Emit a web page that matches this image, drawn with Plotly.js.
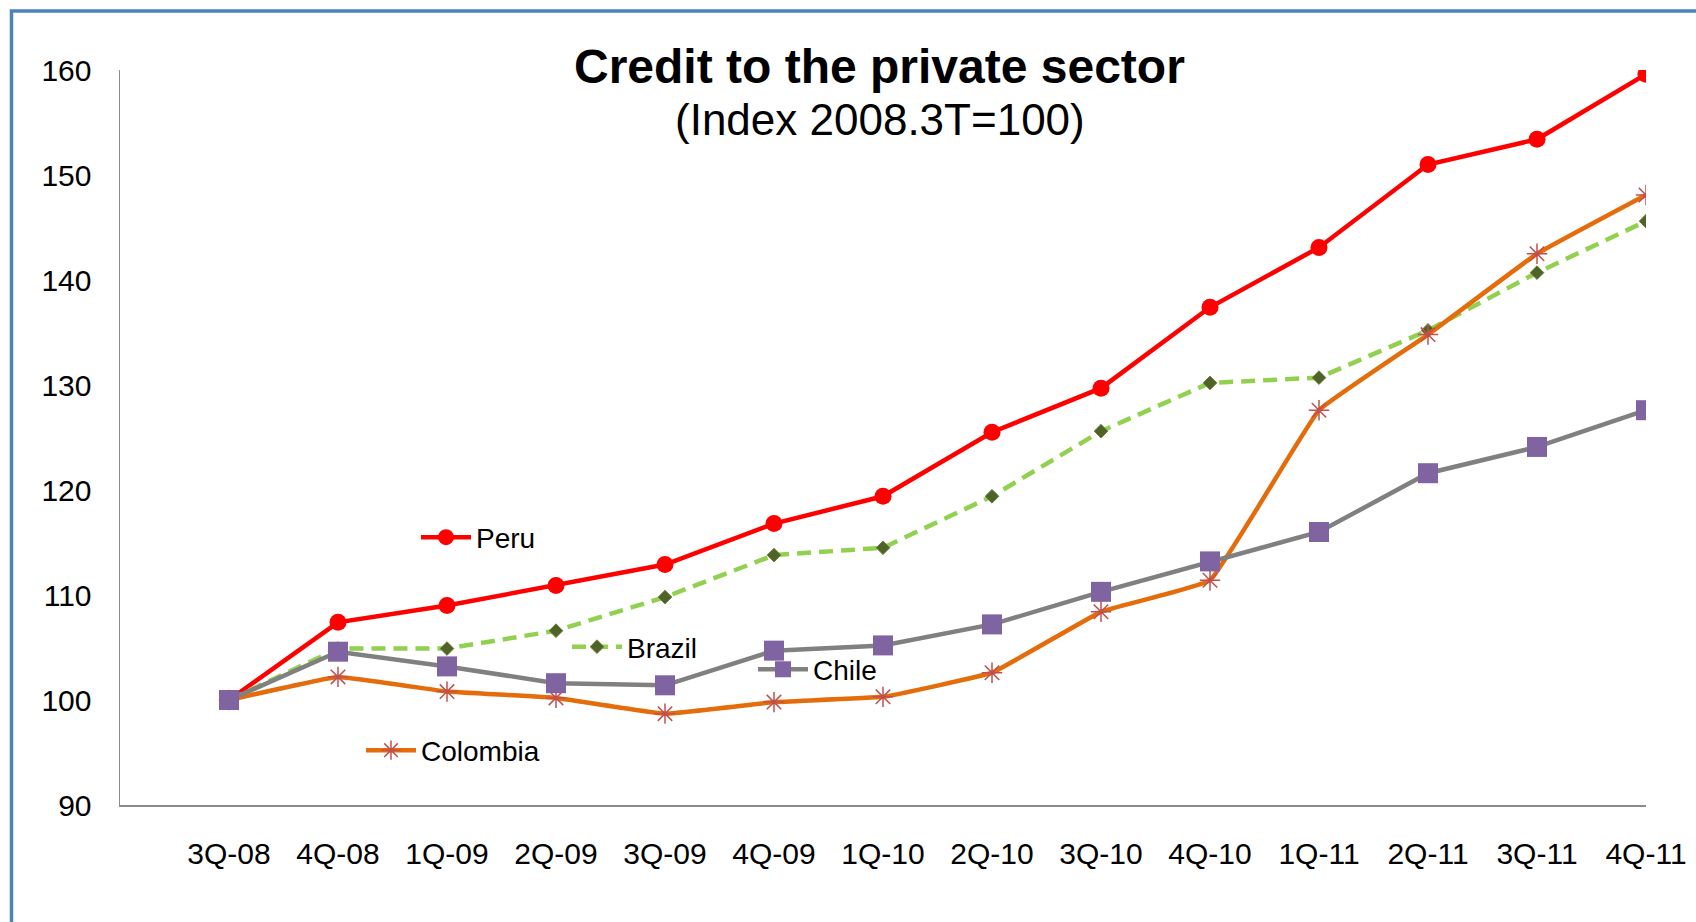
<!DOCTYPE html>
<html>
<head>
<meta charset="utf-8">
<script src="https://cdn.plot.ly/plotly-3.0.1.min.js"></script>
<style>
  html, body { margin: 0; padding: 0; background: #ffffff; }
  #chart { width: 1696px; height: 922px; }
</style>
</head>
<body>
<div id="chart"></div>
<script>
// ---- Data ----
const quarters = ["3Q-08","4Q-08","1Q-09","2Q-09","3Q-09","4Q-09","1Q-10","2Q-10","3Q-10","4Q-10","1Q-11","2Q-11","3Q-11","4Q-11"];
const peru     = [100, 107.4, 109.0, 110.9, 112.9, 116.8, 119.4, 125.5, 129.7, 137.4, 143.1, 151.0, 153.4, 159.6];
const brazil   = [100, 104.9, 104.9, 106.6, 109.8, 113.8, 114.5, 119.4, 125.6, 130.2, 130.7, 135.2, 140.7, 145.6];
const chile    = [100, 104.6, 103.2, 101.6, 101.4, 104.7, 105.2, 107.2, 110.3, 113.2, 116.0, 121.6, 124.1, 127.6];
const colombia = [100, 102.2, 100.8, 100.2,  98.7,  99.8, 100.3, 102.6, 108.4, 111.4, 127.6, 134.8, 142.5, 148.1];
const yTicks   = [90, 100, 110, 120, 130, 140, 150, 160];
const titleText = "Credit to the private sector";
const subtitleText = "(Index 2008.3T=100)";

const FONT = "Liberation Sans, Arial, sans-serif";
const xIdx = quarters.map((q, i) => i);

// plot area in pixels (for converting layout positions)
const PL = 120, PR = 1646, PT = 70, PB = 805;
const px2x = p => (p - PL) / (PR - PL);
const py2y = p => (PB - p) / (PB - PT);

const traces = [
  {
    name: "Peru", x: xIdx, y: peru, type: "scatter", mode: "lines+markers",
    line: { color: "#FF0000", width: 4.5 },
    marker: { symbol: "circle", size: 17, color: "#FF0000" },
    legend: "legend"
  },
  {
    name: "Brazil", x: xIdx, y: brazil, type: "scatter", mode: "lines+markers",
    line: { color: "#92D050", width: 4.5, dash: "14px,8px" },
    marker: { symbol: "diamond", size: 10.5, color: "#4F6228", line: { color: "#6B7F3A", width: 1 } },
    legend: "legend2"
  },
  {
    name: "Colombia", x: xIdx, y: colombia, type: "scatter", mode: "lines+markers",
    line: { color: "#E46C0A", width: 4.5, shape: "spline", smoothing: 0.25 },
    marker: { symbol: "asterisk-open", size: 17, color: "#C0504D", line: { color: "#C0504D", width: 1.5 } },
    legend: "legend4"
  },
  {
    name: "Chile", x: xIdx, y: chile, type: "scatter", mode: "lines+markers",
    line: { color: "#808080", width: 4.5 },
    marker: { symbol: "square", size: 20, color: "#8064A2" },
    legend: "legend3"
  }
];

function leg(xpx, ypx, bg) {
  return {
    x: px2x(xpx), y: py2y(ypx), xref: "paper", yref: "paper",
    xanchor: "left", yanchor: "middle",
    bgcolor: bg, borderwidth: 0,
    font: { family: FONT, size: 28, color: "#000000" },
    itemwidth: 50, tracegroupgap: 0
  };
}

const layout = {
  width: 1696, height: 922,
  paper_bgcolor: "#FFFFFF", plot_bgcolor: "rgba(0,0,0,0)",
  margin: { l: PL, r: 1696 - PR, t: PT, b: 922 - PB, autoexpand: false },
  showlegend: true,
  legend:  leg(416, 537.5, "rgba(255,255,255,1)"),
  legend2: leg(567, 647, "rgba(255,255,255,0)"),
  legend3: leg(753, 669.5, "rgba(255,255,255,0)"),
  legend4: leg(361, 750.5, "rgba(255,255,255,1)"),
  xaxis: {
    range: [-1, 13], tickmode: "array", tickvals: xIdx, ticktext: quarters,
    showgrid: false, zeroline: false, showline: true, linecolor: "#8C8C8C", linewidth: 1.5,
    ticks: "", ticklabelstandoff: 21, tickangle: 0, automargin: false,
    tickfont: { family: FONT, size: 30, color: "#000000" }, fixedrange: true
  },
  yaxis: {
    range: [90, 160], tickmode: "array", tickvals: yTicks, ticktext: yTicks.map(String),
    showgrid: false, zeroline: false, showline: true, linecolor: "#8C8C8C", linewidth: 1.5,
    ticks: "", ticklabelstandoff: 21, automargin: false,
    tickfont: { family: FONT, size: 30, color: "#000000" }, fixedrange: true
  },
  annotations: [
    { text: "<b>" + titleText + "</b>", xref: "paper", yref: "paper",
      x: px2x(879), y: py2y(66), xanchor: "center", yanchor: "middle",
      showarrow: false, font: { family: FONT, size: 48, color: "#000000" } },
    { text: subtitleText, xref: "paper", yref: "paper",
      x: px2x(880), y: py2y(120), xanchor: "center", yanchor: "middle",
      showarrow: false, font: { family: FONT, size: 44, color: "#000000" } }
  ],
  shapes: [
    { type: "rect", xref: "paper", yref: "paper",
      x0: px2x(11.5), x1: 2, y0: -2, y1: py2y(11),
      line: { color: "#4F81BD", width: 3.5 }, fillcolor: "rgba(0,0,0,0)", layer: "below" }
  ]
};

Plotly.newPlot("chart", traces, layout, { staticPlot: true, displayModeBar: false });
</script>
</body>
</html>
